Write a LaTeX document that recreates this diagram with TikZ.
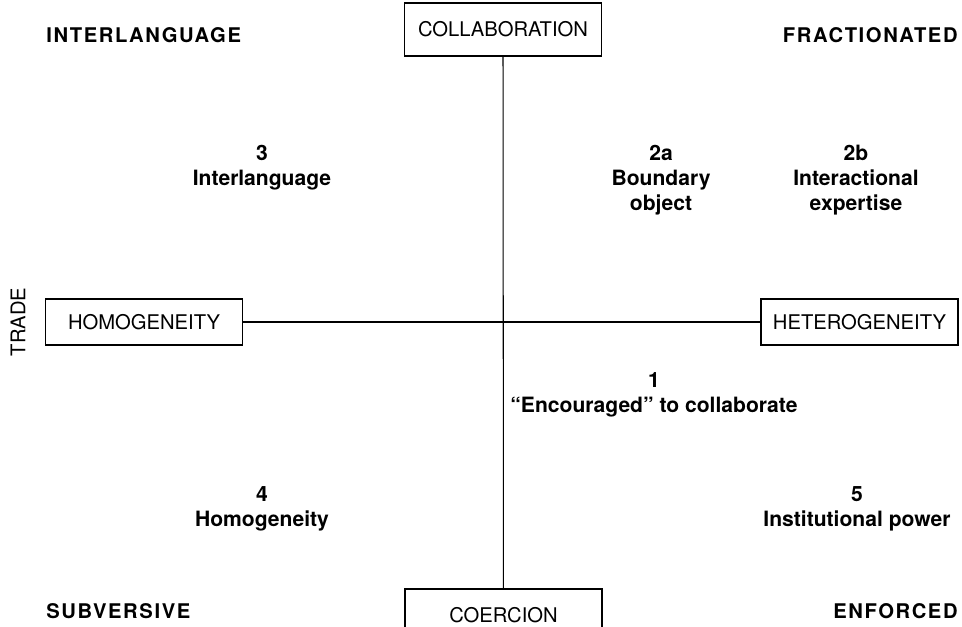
\documentclass[tikz,border=0pt]{standalone}
\usepackage{fontspec}
\setmainfont{TeX Gyre Heros}
\usepackage{tikz}
\usetikzlibrary{positioning}

\begin{document}
\begin{tikzpicture}[scale=0.2]
\tikzstyle{every node}+=[inner sep=0pt]
\tikzstyle{pole}=[draw=black, line width=0.6pt, minimum width=3.94cm, font=\fontsize{11.5}{13}\selectfont]
\tikzstyle{corner}=[font=\fontsize{11.5}{13}\selectfont\bfseries\addfontfeature{LetterSpace=8}]
\tikzstyle{cell}=[align=center, font=\fontsize{12}{14.2}\selectfont\bfseries]
\clip (0,0) rectangle (96.2,-62.7);
% the four poles
\node [pole, minimum height=1.06cm] (collab) at (50.3,-2.95) {COLLABORATION};
\node [pole, minimum height=1.06cm] (coerc) at (50.35,-61.55) {COERCION};
\node [pole, minimum height=0.92cm] (homog) at (14.4,-32.2) {HOMOGENEITY};
\node [pole, minimum height=0.92cm] (heterog) at (85.95,-32.2) {HETEROGENEITY};
\draw [black, line width=0.6pt] (collab) -- (coerc);
\draw [black, line width=0.6pt] (homog) -- (heterog);
\node [rotate=90, font=\fontsize{11.5}{13}\selectfont] (trade) at (1.8,-32.2) {TRADE};
% corners
\node [corner, anchor=west] (interl) at (4.6,-3.5) {INTERLANGUAGE};
\node [corner, anchor=east] (fract) at (95.8,-3.5) {FRACTIONATED};
\node [corner, anchor=west] (subv) at (4.6,-61.1) {SUBVERSIVE};
\node [corner, anchor=east] (enf) at (95.8,-61.1) {ENFORCED};
% numbered cells
\node [cell] (c3) at (26.2,-16.75) {3\\Interlanguage};
\node [cell] (c2a) at (66.1,-18) {2a\\Boundary\\object};
\node [cell] (c2b) at (85.6,-18) {2b\\Interactional\\expertise};
\node [cell] (c1) at (65.4,-39.45) {1\\``Encouraged'' to collaborate};
\node [cell] (c4) at (26.2,-50.85) {4\\Homogeneity};
\node [cell] (c5) at (85.7,-50.85) {5\\Institutional power};
\end{tikzpicture}
\end{document}
